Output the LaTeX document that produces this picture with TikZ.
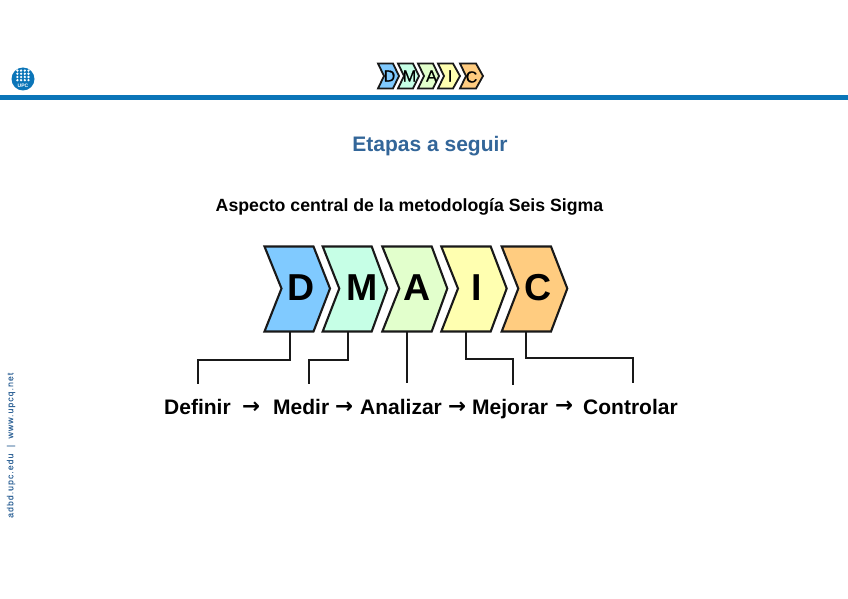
\documentclass[tikz,border=0pt]{standalone}
\usepackage{fontspec}
\setmainfont{Liberation Sans}
\newfontfamily\arrowfont{DejaVu Sans}
\definecolor{barblue}{HTML}{0B75B8}
\definecolor{titleblue}{HTML}{336699}
\definecolor{cD}{HTML}{80CAFF}
\definecolor{cM}{HTML}{C6FFE6}
\definecolor{cA}{HTML}{E2FFCC}
\definecolor{cI}{HTML}{FFFFB0}
\definecolor{cC}{HTML}{FFCC80}
\tikzset{
  bigchev/.style={draw=black!90,line width=2.1pt,line join=miter,miter limit=3},
  smallchev/.style={draw=black!90,line width=1.8pt,line join=miter,miter limit=3},
  biglet/.style={font=\fontsize{37.5}{40}\selectfont\bfseries,text=black,inner sep=0pt},
  smalllet/.style={font=\fontsize{16}{16}\selectfont\addfontfeatures{FakeBold=0.8},text=black,inner sep=0pt},
  word/.style={font=\fontsize{21}{21}\selectfont\bfseries,text=black,inner sep=0pt,anchor=base west},
  arrowtxt/.style={font=\fontsize{21.5}{21}\selectfont\arrowfont\bfseries,text=black,inner sep=0pt,anchor=base west},
  link/.style={draw=black!90,line width=2pt,line join=miter},
}
\newcommand{\chevpath}[7]{% left, topright, tip, notch, top, mid, bottom
  (#1,#5) -- (#2,#5) -- (#3,#6) -- (#2,#7) -- (#1,#7) -- (#4,#6) -- cycle}
\begin{document}
\begin{tikzpicture}[x=1pt,y=-1pt]
\useasboundingbox (0,0) rectangle (848,599);
\fill[white] (0,0) rectangle (848,599);
% header bar
\fill[barblue] (0,95) rectangle (848,100.5);
% logo
\node[circle,fill=barblue,minimum size=23pt,inner sep=0pt] (logo) at (23,79) {};
\foreach \i in {0,1,2,3}{\foreach \j in {0,1,2,3}{
  \fill[white] (17.4+\i*3.7,70.6+\j*3.2) circle (1.3pt);}}
\node[font=\fontsize{5}{5}\selectfont\bfseries,text=white,inner sep=0pt] (logotxt) at (23,86) {UPC};
% small chevrons
\draw[smallchev,fill=cD] \chevpath{378}{393}{399}{384}{63.5}{76}{88.5};
\draw[smallchev,fill=cM] \chevpath{398}{413}{419}{404}{63.5}{76}{88.5};
\draw[smallchev,fill=cA] \chevpath{418}{433}{439}{424}{63.5}{76}{88.5};
\draw[smallchev,fill=cI] \chevpath{438}{453}{460}{444}{63.5}{76}{88.5};
\draw[smallchev,fill=cC] \chevpath{460}{476}{483}{466}{63.5}{76}{88.5};
\node[smalllet] (sD) at (389.5,76) {D};
\node[smalllet] (sM) at (409.5,76) {M};
\node[smalllet] (sA) at (431.5,76) {A};
\node[smalllet] (sI) at (450,76) {I};
\node[smalllet] (sC) at (471.5,77) {C};
% titles
\node[font=\fontsize{21}{22}\selectfont\bfseries,text=titleblue,inner sep=0pt] (title) at (430,146) {Etapas a seguir};
\node[font=\fontsize{17.7}{19}\selectfont\bfseries,text=black,inner sep=0pt] (sub) at (409.5,207) {Aspecto central de la metodología Seis Sigma};
% big chevrons
\draw[bigchev,fill=cD] \chevpath{264.5}{313.5}{330}{281.5}{246.5}{288.5}{331.5};
\draw[bigchev,fill=cM] \chevpath{322.7}{371.7}{387.3}{339.3}{246.5}{288.5}{331.5};
\draw[bigchev,fill=cA] \chevpath{382.3}{431.7}{447.3}{399.3}{246.5}{288.5}{331.5};
\draw[bigchev,fill=cI] \chevpath{441.3}{490.7}{506.7}{458}{246.5}{288.5}{331.5};
\draw[bigchev,fill=cC] \chevpath{501.7}{551}{567.3}{518.3}{246.5}{288.5}{331.5};
\node[biglet] (D) at (301,288) {D};
\node[biglet] (M) at (362,288) {M};
\node[biglet] (A) at (417,288) {A};
\node[biglet] (I) at (477,288) {I};
\node[biglet] (C) at (538,288) {C};
% connector ends
\coordinate (dTop) at (289.5,332);
\coordinate (mTop) at (347.5,332);
\coordinate (aTop) at (407,332);
\coordinate (iTop) at (465.5,332);
\coordinate (cTop) at (526,332);
\coordinate (dEnd) at (198,384);
\coordinate (mEnd) at (309,384);
\coordinate (aEnd) at (407,383);
\coordinate (iEnd) at (513,385);
\coordinate (cEnd) at (633,383);
\draw[link] (dTop) -- (289.5,359.5) -- (198,359.5) -- (dEnd);
\draw[link] (mTop) -- (347.5,359.5) -- (309,359.5) -- (mEnd);
\draw[link] (aTop) -- (aEnd);
\draw[link] (iTop) -- (465.5,358.5) -- (513,358.5) -- (iEnd);
\draw[link] (cTop) -- (526,358) -- (633,358) -- (cEnd);
% words
\node[word] (w1) at (164,414) {Definir};
\node[arrowtxt] (a1) at (242,413) {→};
\node[word] (w2) at (273,414) {Medir};
\node[arrowtxt] (a2) at (335,413) {→};
\node[word] (w3) at (360,414) {Analizar};
\node[arrowtxt] (a3) at (448,413) {→};
\node[word] (w4) at (472,414) {Mejorar};
\node[arrowtxt] (a4) at (555,412) {→};
\node[word] (w5) at (583,414) {Controlar};
% vertical text
\node[rotate=90,anchor=west,inner sep=0pt,text=titleblue,font=\fontsize{8.7}{9}\selectfont\addfontfeatures{LetterSpace=12,FakeBold=0.3}] (side) at (11,518) {adbd.upc.edu\hspace{3pt} | \hspace{3pt}www.upcq.net};
\end{tikzpicture}
\end{document}
